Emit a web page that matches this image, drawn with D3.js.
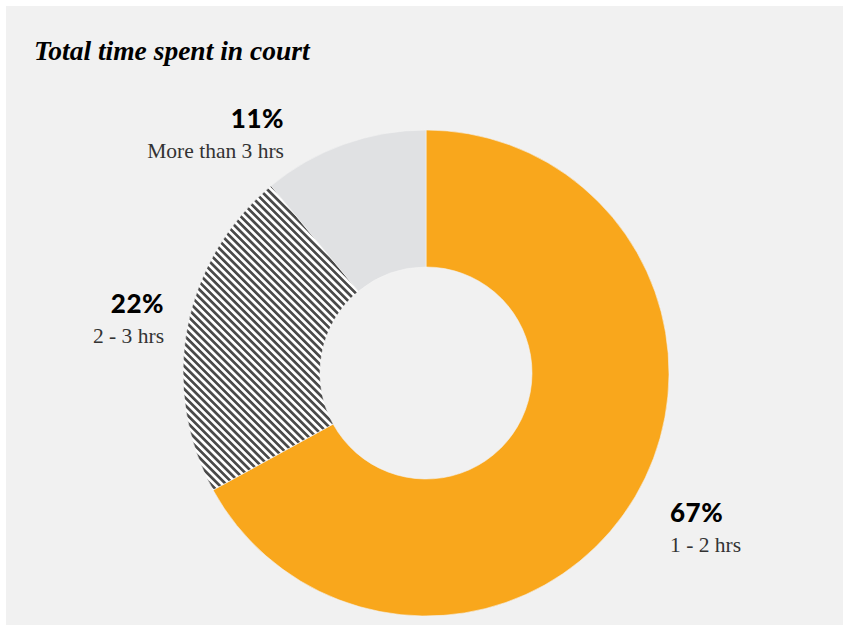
<!DOCTYPE html>
<html lang="en">
<head>
  <meta charset="UTF-8">
  <script src="https://d3js.org/d3.v7.min.js"></script>
  <title>Total time spent in court</title>
  <style>
    html, body { margin: 0; padding: 0; background: #ffffff; }
    svg { display: block; }
  </style>
</head>
<body>
  <script>
    // chart data
    const categories = ["1 - 2 hrs", "2 - 3 hrs", "More than 3 hrs"];
    const values = [67, 22, 11];
    const percentLabels = ["67%", "22%", "11%"];

    /*=======================*/
    /* Setting Up SVG Canvas */
    /*=======================*/
    const width = 843;
    const height = 625;
    const cx = 426, cy = 373;
    const outerR = 243, innerR = 106;

    const svg = d3.select("body").append("svg")
                  .attr("width", width)
                  .attr("height", height)

    svg.append("rect")
      .attr("x", 6).attr("y", 6)
      .attr("width", width - 6).attr("height", height - 6)
      .attr("fill", "#f1f1f1")

    // hatch pattern for the middle slice
    const defs = svg.append("defs")
    const pat = defs.append("pattern")
      .attr("id", "hatch")
      .attr("patternUnits", "userSpaceOnUse")
      .attr("width", 5.4).attr("height", 10)
      .attr("patternTransform", "rotate(-45)")
    pat.append("rect").attr("width", 5.4).attr("height", 10).attr("fill", "#ffffff")
    pat.append("rect").attr("width", 2.7).attr("height", 10).attr("fill", "#4a4a4a")

    const fills = ["#f9a71c", "url(#hatch)", "#e0e1e3"];

    /*============*/
    /* Title      */
    /*============*/
    svg.append("text")
      .attr("x", 34).attr("y", 60)
      .attr("font-family", "'Liberation Serif', serif")
      .attr("font-style", "italic")
      .attr("font-weight", "bold")
      .attr("font-size", 27.5)
      .attr("fill", "#000")
      .text("Total time spent in court")

    /*==============*/
    /* Donut slices */
    /*==============*/
    const pie = d3.pie().sort(null).startAngle(0).endAngle(2 * Math.PI)
    const arc = d3.arc().innerRadius(innerR).outerRadius(outerR)
    const arcs = pie(values)

    const g = svg.append("g").attr("transform", `translate(${cx}, ${cy})`)
    g.selectAll("path")
      .data(arcs)
      .enter()
      .append("path")
      .attr("d", arc)
      .attr("fill", (d, i) => fills[i])
      .attr("stroke", "#f4f4f4")
      .attr("stroke-width", 0.6)

    /*========*/
    /* Labels */
    /*========*/
    // label anchor: [x, y, text-anchor]
    const labelPos = [[670, 522, "start"], [164, 313, "end"], [284, 128, "end"]];

    arcs.forEach((d, i) => {
      const [x, y, anchor] = labelPos[i];
      svg.append("text")
        .attr("x", x).attr("y", y)
        .attr("text-anchor", anchor)
        .attr("font-family", "Lato, 'Noto Sans', sans-serif")
        .attr("font-weight", 900)
        .attr("font-size", 26)
        .attr("letter-spacing", 0.5)
        .attr("fill", "#000")
        .text(percentLabels[i])
      svg.append("text")
        .attr("x", x).attr("y", y + 30)
        .attr("text-anchor", anchor)
        .attr("font-family", "'Liberation Serif', serif")
        .attr("font-size", 21.5)
        .attr("fill", "#333")
        .text(categories[i])
    })
  </script>
</body>
</html>
